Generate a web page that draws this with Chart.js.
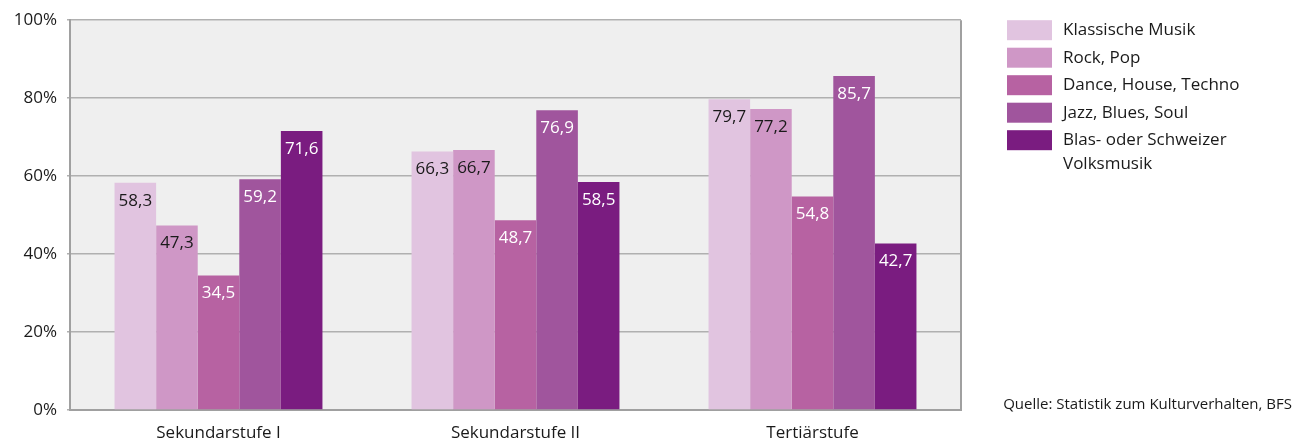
<!DOCTYPE html>
<html>
<head>
<meta charset="utf-8">
<script src="https://cdn.jsdelivr.net/npm/chart.js@4/dist/chart.umd.min.js"></script>
<style>
html,body{margin:0;padding:0;background:#fff;}
#wrap{position:relative;width:1294px;height:441px;}
</style>
</head>
<body>
<div id="wrap"><canvas id="c" width="1294" height="441"></canvas></div>
<script>
const categories = ['Sekundarstufe I', 'Sekundarstufe II', 'Tertiärstufe'];
const seriesNames = ['Klassische Musik', 'Rock, Pop', 'Dance, House, Techno', 'Jazz, Blues, Soul', ['Blas- oder Schweizer', 'Volksmusik']];
const klassisch = [58.3, 66.3, 79.7];
const rockPop = [47.3, 66.7, 77.2];
const dance = [34.5, 48.7, 54.8];
const jazz = [59.2, 76.9, 85.7];
const blas = [71.6, 58.5, 42.7];
const yTicks = [0, 20, 40, 60, 80, 100];
const sourceText = 'Quelle: Statistik zum Kulturverhalten, BFS';

const colors = ['#e1c4e0', '#cf97c6', '#b762a2', '#a0559d', '#7a1c80'];
const labelColors = ['#1a1a1a', '#1a1a1a', '#ffffff', '#ffffff', '#ffffff'];
const FONT = '"Open Sans", "Noto Sans", sans-serif';

const values = [klassisch, rockPop, dance, jazz, blas];
const datasets = values.map((v, i) => ({
  label: seriesNames[i],
  data: v,
  backgroundColor: colors[i],
  borderWidth: 0,
  categoryPercentage: 0.7,
  barPercentage: 1.0
}));

const bgPlugin = {
  id: 'plotBg',
  beforeDraw(chart) {
    const {ctx, chartArea: a} = chart;
    ctx.save();
    ctx.fillStyle = '#efefef';
    ctx.fillRect(a.left, a.top, a.right - a.left, a.bottom - a.top);
    ctx.restore();
  },
  afterDraw(chart) {
    const {ctx, chartArea: a} = chart;
    ctx.save();
    ctx.strokeStyle = '#a0a0a0';
    ctx.lineWidth = 2;
    ctx.beginPath();
    ctx.moveTo(a.right, a.top);
    ctx.lineTo(a.right, a.bottom + 1);
    ctx.stroke();
    ctx.restore();
  }
};

const labelPlugin = {
  id: 'valueLabels',
  afterDatasetsDraw(chart) {
    const ctx = chart.ctx;
    ctx.save();
    ctx.font = '17px ' + FONT;
    ctx.textAlign = 'center';
    ctx.textBaseline = 'middle';
    chart.data.datasets.forEach((ds, i) => {
      const meta = chart.getDatasetMeta(i);
      meta.data.forEach((bar, j) => {
        const txt = ds.data[j].toFixed(1).replace('.', ',');
        ctx.fillStyle = labelColors[i];
        ctx.fillText(txt, bar.x, bar.y + 18);
      });
    });
    ctx.restore();
  }
};

const legendPlugin = {
  id: 'customLegend',
  afterDraw(chart) {
    const {ctx, chartArea: a} = chart;
    ctx.save();
    const boxX = a.right + 46;
    const boxW = 45, boxH = 20, step = 27.5;
    let y = a.top;
    ctx.font = '17px ' + FONT;
    ctx.textBaseline = 'middle';
    ctx.textAlign = 'left';
    chart.data.datasets.forEach((ds, i) => {
      ctx.fillStyle = ds.backgroundColor;
      ctx.fillRect(boxX, y, boxW, boxH);
      ctx.fillStyle = '#1a1a1a';
      const lines = Array.isArray(ds.label) ? ds.label : [ds.label];
      lines.forEach((ln, k) => {
        ctx.fillText(ln, boxX + 56, y + boxH / 2 + k * 23.5);
      });
      y += step;
    });
    ctx.font = '15px ' + FONT;
    ctx.textAlign = 'right';
    ctx.fillText(sourceText, chart.width - 2, a.bottom - 5);
    ctx.restore();
  }
};

new Chart(document.getElementById('c'), {
  type: 'bar',
  data: { labels: categories, datasets },
  plugins: [bgPlugin, labelPlugin, legendPlugin],
  options: {
    responsive: false,
    animation: false,
    layout: { padding: { left: 0, top: 20, right: 333, bottom: 0 } },
    plugins: { legend: { display: false }, tooltip: { enabled: false } },
    scales: {
      x: {
        grid: { display: false },
        border: { display: true, color: '#a0a0a0', width: 2 },
        ticks: { color: '#1a1a1a', font: { family: FONT, size: 17 }, padding: 5 },
        afterFit(s) { s.height = 31; }
      },
      y: {
        min: 0, max: 100,
        afterBuildTicks(s) { s.ticks = yTicks.map(v => ({ value: v })); },
        grid: { color: '#b0b0b0', lineWidth: 1.5, tickLength: 3, drawTicks: true },
        border: { display: true, color: '#a0a0a0', width: 2 },
        ticks: { color: '#1a1a1a', font: { family: FONT, size: 17 }, padding: 10, callback: v => v + '%' },
        afterFit(s) { s.width = 70; }
      }
    }
  }
});
</script>
</body>
</html>
